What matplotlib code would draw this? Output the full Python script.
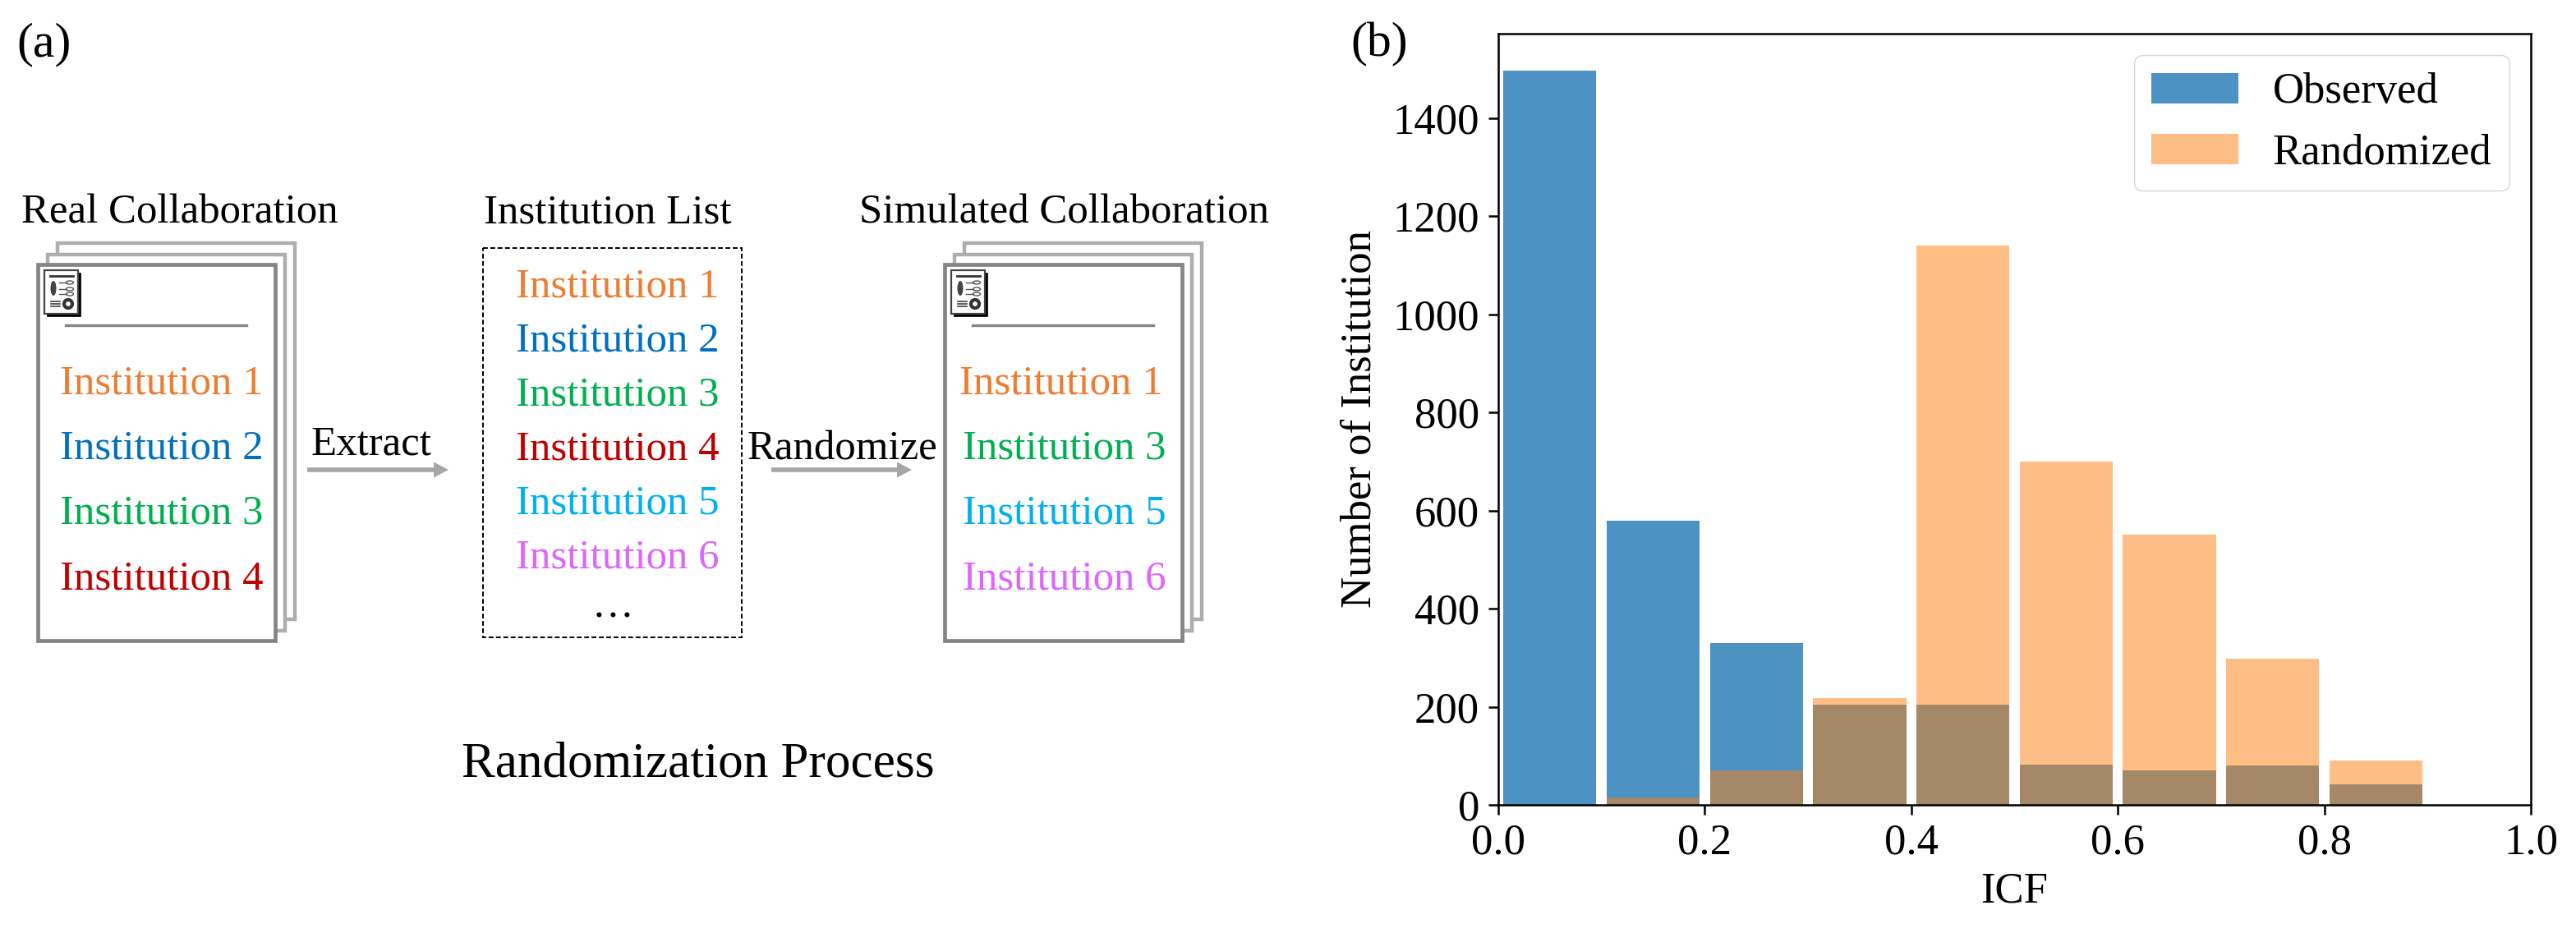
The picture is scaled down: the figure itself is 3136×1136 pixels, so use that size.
import matplotlib
matplotlib.use("Agg")
import matplotlib.pyplot as plt
from matplotlib.patches import Rectangle, Circle, Ellipse

plt.rcParams['font.family'] = ['Liberation Serif', 'DejaVu Serif']

# 右パネルのデータ
bin_left = [0.0, 0.1, 0.2, 0.3, 0.4, 0.5, 0.6, 0.7, 0.8]
observed = [1497, 580, 330, 205, 205, 82, 70, 80, 42]
randomized = [0, 15, 70, 218, 1140, 700, 550, 298, 90]
x_ticks = [0.0, 0.2, 0.4, 0.6, 0.8, 1.0]
y_ticks = [0, 200, 400, 600, 800, 1000, 1200, 1400]

# 左パネルの文字
inst_names = ["Institution 1", "Institution 2", "Institution 3",
              "Institution 4", "Institution 5", "Institution 6"]
inst_colors = ["#ED7D31", "#0070C0", "#00B050", "#C00000", "#00B0F0", "#DD66FF"]
real_ids = [0, 1, 2, 3]
sim_ids = [0, 2, 4, 5]

W, H = 3136, 1136
fig = plt.figure(figsize=(W / 100, H / 100), dpi=100)

# 左パネルは画像と同じピクセル座標で描く
bg = fig.add_axes([0, 0, 1, 1])
bg.set_xlim(0, W)
bg.set_ylim(H, 0)
bg.axis("off")


def label(x, y, s, size=36.6, color="black"):
    bg.text(x, y, s, fontsize=size, color=color, ha="left", va="baseline")


def icon(x, y):
    """論文アイコン(左上の座標を指定)"""
    bg.add_patch(Rectangle((x + 3, y + 3), 41, 53, fc="black", ec="black", lw=0.5))
    bg.add_patch(Rectangle((x, y), 41, 53, fc="white", ec="#444444", lw=1.6))
    bg.plot([x + 7, x + 35], [y + 7, y + 7], c="#333333", lw=2)
    bg.add_patch(Ellipse((x + 11, y + 22), 7, 18, fc="#444444", ec="none"))
    for dy in [15, 23, 29]:
        bg.plot([x + 18, x + 27], [y + dy, y + dy], c="#555555", lw=1)
        bg.add_patch(Ellipse((x + 31, y + dy), 9, 4, fc="white", ec="#555555", lw=1))
    for dy in [38, 41, 44]:
        bg.plot([x + 8, x + 19], [y + dy, y + dy], c="#444444", lw=1.2)
    bg.add_patch(Circle((x + 29, y + 41), 5, fc="white", ec="#333333", lw=3))


def sheets(left, top, id_list, text_x):
    """3枚重ねの書類"""
    for dx, dy, c, lw in [(24, -26, "#ADADAD", 3.2), (12, -12, "#ADADAD", 3.2), (0, 0, "#858585", 3.4)]:
        bg.add_patch(Rectangle((left + dx, top + dy), 289, 458, fc="white", ec=c, lw=lw))
    icon(left + 8, top + 7)
    bg.plot([left + 34, left + 254], [top + 74, top + 74], c="#858585", lw=2.4)
    for i, idx in enumerate(id_list):
        label(text_x[i], top + 157 + i * 79.5, inst_names[idx], color=inst_colors[idx])


def arrow(x0, x1, y):
    bg.arrow(x0, y, x1 - x0, 0, width=5.5, head_width=19, head_length=18,
             length_includes_head=True, fc="#A6A6A6", ec="none")


label(20, 68, "(a)", size=43)
label(1644, 68, "(b)", size=43)

label(26, 272, "Real Collaboration")
label(589, 272, "Institution List")
label(1046, 272, "Simulated Collaboration")

sheets(46, 322, real_ids, [73, 73, 73, 73])
sheets(1150, 322, sim_ids, [1168, 1172, 1172, 1172])

bg.add_patch(Rectangle((588, 301.5), 315, 474.5, fc="none", ec="black", lw=1.4, ls=(0, (3, 1.6))))
for i, name in enumerate(inst_names):
    label(628, 361 + i * 66.2, name, color=inst_colors[i])
bg.text(746, 751, "…", fontsize=36.6, ha="center", va="baseline")

arrow(374, 546, 572)
label(379, 553, "Extract")
arrow(939, 1110, 572)
label(910, 559, "Randomize")

label(562, 945, "Randomization Process", size=44)

# 右パネル:ヒストグラム
ax = fig.add_axes([1824 / W, 1 - 980 / H, (3081 - 1824) / W, (980 - 41) / H])
ax.patch.set_alpha(0)
ax.bar([b + 0.005 for b in bin_left], observed, width=0.09, align="edge",
       color="#1f77b4", alpha=0.8, label="Observed")
ax.bar([b + 0.005 for b in bin_left], randomized, width=0.09, align="edge",
       color="#ff7f0e", alpha=0.5, label="Randomized")
ax.set_xlim(0, 1.0)
ax.set_ylim(0, 1572)
ax.set_xticks(x_ticks)
ax.set_yticks(y_ticks)
ax.tick_params(labelsize=38, length=8.4, width=1.8, pad=8)
for spine in ax.spines.values():
    spine.set_linewidth(1.8)
ax.set_xlabel("ICF", fontsize=38, labelpad=8)
ax.set_ylabel("Number of Institution", fontsize=38, labelpad=12)
ax.legend(loc="upper right", fontsize=38)

fig.savefig("out.png", dpi=100)
